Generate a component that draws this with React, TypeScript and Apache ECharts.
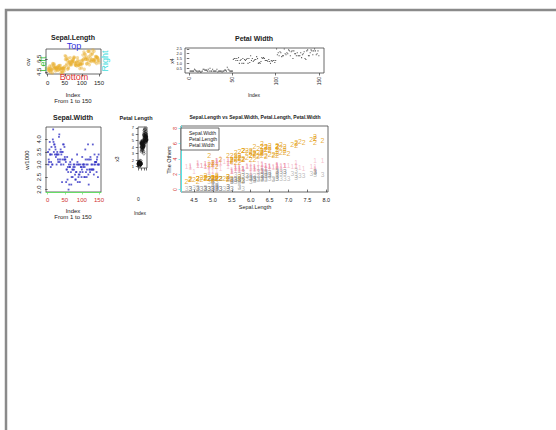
import React, { useEffect, useRef } from "react";
import * as echarts from "echarts";

const sepalLength = [5.1,4.9,4.7,4.6,5.0,5.4,4.6,5.0,4.4,4.9,5.4,4.8,4.8,4.3,5.8,5.7,5.4,5.1,5.7,5.1,5.4,5.1,4.6,5.1,4.8,5.0,5.0,5.2,5.2,4.7,4.8,5.4,5.2,5.5,4.9,5.0,5.5,4.9,4.4,5.1,5.0,4.5,4.4,5.0,5.1,4.8,5.1,4.6,5.3,5.0,
7.0,6.4,6.9,5.5,6.5,5.7,6.3,4.9,6.6,5.2,5.0,5.9,6.0,6.1,5.6,6.7,5.6,5.8,6.2,5.6,5.9,6.1,6.3,6.1,6.4,6.6,6.8,6.7,6.0,5.7,5.5,5.5,5.8,6.0,5.4,6.0,6.7,6.3,5.6,5.5,5.5,6.1,5.8,5.0,5.6,5.7,5.7,6.2,5.1,5.7,
6.3,5.8,7.1,6.3,6.5,7.6,4.9,7.3,6.7,7.2,6.5,6.4,6.8,5.7,5.8,6.4,6.5,7.7,7.7,6.0,6.9,5.6,7.7,6.3,6.7,7.2,6.2,6.1,6.4,7.2,7.4,7.9,6.4,6.3,6.1,7.7,6.3,6.4,6.0,6.9,6.7,6.9,5.8,6.8,6.7,6.7,6.3,6.5,6.2,5.9];
const sepalWidth = [3.5,3.0,3.2,3.1,3.6,3.9,3.4,3.4,2.9,3.1,3.7,3.4,3.0,3.0,4.0,4.4,3.9,3.5,3.8,3.8,3.4,3.7,3.6,3.3,3.4,3.0,3.4,3.5,3.4,3.2,3.1,3.4,4.1,4.2,3.1,3.2,3.5,3.6,3.0,3.4,3.5,2.3,3.2,3.5,3.8,3.0,3.8,3.2,3.7,3.3,
3.2,3.2,3.1,2.3,2.8,2.8,3.3,2.4,2.9,2.7,2.0,3.0,2.2,2.9,2.9,3.1,3.0,2.7,2.2,2.5,3.2,2.8,2.5,2.8,2.9,3.0,2.8,3.0,2.9,2.6,2.4,2.4,2.7,2.7,3.0,3.4,3.1,2.3,3.0,2.5,2.6,3.0,2.6,2.3,2.7,3.0,2.9,2.9,2.5,2.8,
3.3,2.7,3.0,2.9,3.0,3.0,2.5,2.9,2.5,3.6,3.2,2.7,3.0,2.5,2.8,3.2,3.0,3.8,2.6,2.2,3.2,2.8,2.8,2.7,3.3,3.2,2.8,3.0,2.8,3.0,2.8,3.8,2.8,2.8,2.6,3.0,3.4,3.1,3.0,3.1,3.1,3.1,2.7,3.2,3.3,3.0,2.5,3.0,3.4,3.0];
const petalLength = [1.4,1.4,1.3,1.5,1.4,1.7,1.4,1.5,1.4,1.5,1.5,1.6,1.4,1.1,1.2,1.5,1.3,1.4,1.7,1.5,1.7,1.5,1.0,1.7,1.9,1.6,1.6,1.5,1.4,1.6,1.6,1.5,1.5,1.4,1.5,1.2,1.3,1.4,1.3,1.5,1.3,1.3,1.3,1.6,1.9,1.4,1.6,1.4,1.5,1.4,
4.7,4.5,4.9,4.0,4.6,4.5,4.7,3.3,4.6,3.9,3.5,4.2,4.0,4.7,3.6,4.4,4.5,4.1,4.5,3.9,4.8,4.0,4.9,4.7,4.3,4.4,4.8,5.0,4.5,3.5,3.8,3.7,3.9,5.1,4.5,4.5,4.7,4.4,4.1,4.0,4.4,4.6,4.0,3.3,4.2,4.2,4.2,4.3,3.0,4.1,
6.0,5.1,5.9,5.6,5.8,6.6,4.5,6.3,5.8,6.1,5.1,5.3,5.5,5.0,5.1,5.3,5.5,6.7,6.9,5.0,5.7,4.9,6.7,4.9,5.7,6.0,4.8,4.9,5.6,5.8,6.1,6.4,5.6,5.1,5.6,6.1,5.6,5.5,4.8,5.4,5.6,5.1,5.1,5.9,5.7,5.2,5.0,5.2,5.4,5.1];
const petalWidth = [0.2,0.2,0.2,0.2,0.2,0.4,0.3,0.2,0.2,0.1,0.2,0.2,0.1,0.1,0.2,0.4,0.4,0.3,0.3,0.3,0.2,0.4,0.2,0.5,0.2,0.2,0.4,0.2,0.2,0.2,0.2,0.4,0.1,0.2,0.2,0.2,0.2,0.1,0.2,0.2,0.3,0.3,0.2,0.6,0.4,0.3,0.2,0.2,0.2,0.2,
1.4,1.5,1.5,1.3,1.5,1.3,1.6,1.0,1.3,1.4,1.0,1.5,1.0,1.4,1.3,1.4,1.5,1.0,1.5,1.1,1.8,1.3,1.5,1.2,1.3,1.4,1.4,1.7,1.5,1.0,1.1,1.0,1.2,1.6,1.5,1.6,1.5,1.3,1.3,1.3,1.2,1.4,1.2,1.0,1.3,1.2,1.3,1.3,1.1,1.3,
2.5,1.9,2.1,1.8,2.2,2.1,1.7,1.8,1.8,2.5,2.0,1.9,2.1,2.0,2.4,2.3,1.8,2.2,2.3,1.5,2.3,2.0,2.0,1.8,2.1,1.8,1.8,1.8,2.1,1.6,1.9,2.0,2.2,1.5,1.4,2.3,2.4,1.8,1.8,2.1,2.4,2.3,1.9,2.3,2.5,2.3,1.9,2.0,2.3,1.8];

const indexTicks = [0, 50, 100, 150];
const slTicks = [4.5, 6.5];
const pwTicks = [0.5, 1.0, 1.5, 2.0, 2.5];
const swTicks = [2.0, 2.5, 3.0, 3.5, 4.0];
const plTicks = [1, 2, 3, 4, 5, 6, 7];
const othersTicks = [0, 2, 4, 6, 8];
const slxTicks = [4.5, 5.0, 5.5, 6.0, 6.5, 7.0, 7.5, 8.0];
const othersLim = [0, 8];
const seriesNames = ["Sepal.Width", "Petal.Length", "Petal.Width"];
const seriesSymbols = ["1", "2", "3"];
const seriesColors = ["rgba(238,140,165,0.55)", "rgba(228,158,18,0.85)", "rgba(140,140,140,0.6)"];

const FONT = "Liberation Sans, Arial, sans-serif";

function pad(lo: number, hi: number): [number, number] {
  const d = (hi - lo) * 0.04;
  return [lo - d, hi + d];
}
const rng = (a: number[]) => pad(Math.min(...a), Math.max(...a));

function txt(text: string, x: number, y: number, opts: any = {}) {
  const { size = 6, color = "#222", bold = false, rot = 0, align = "center" } = opts;
  return {
    type: "text",
    x,
    y,
    rotation: rot,
    silent: true,
    style: {
      text,
      fill: color,
      font: `${bold ? "bold " : ""}${size}px ${FONT}`,
      align,
      verticalAlign: "middle",
      textAlign: align,
      textVerticalAlign: "middle",
    },
  };
}

export default function App() {
  const ref = useRef<HTMLDivElement>(null);
  useEffect(() => {
    if (!ref.current) return;
    const chart = echarts.init(ref.current, null, { renderer: "svg" });
    const index = sepalLength.map((_, i) => i + 1);
    const idxR = rng(index);
    const slR = rng(sepalLength);
    const pwR = rng(petalWidth);
    const swR = rng(sepalWidth);
    const plR = rng(petalLength);
    const oR = pad(othersLim[0], othersLim[1]);

    const axisBase = (min: number, max: number, ticks: number[], extra: any = {}) => {
      const { labelTicks = ticks, rotate = 0, margin = 3, size = 6, labelColor = "#222", lineColor = null } = extra;
      return {
        type: "value",
        min,
        max,
        splitLine: { show: false },
        axisLine: lineColor ? { show: true, lineStyle: { color: lineColor, width: 1 } } : { show: false },
        axisTick: { show: true, length: 2.5, customValues: ticks, lineStyle: { color: lineColor || "#333", width: 0.7 } },
        axisLabel: {
          show: true,
          customValues: labelTicks,
          rotate,
          margin,
          fontSize: size,
          color: labelColor,
          fontFamily: FONT,
          hideOverlap: false,
          showMinLabel: true,
          showMaxLabel: true,
          formatter: (v: number) => (extra.fmt ? extra.fmt(v) : String(v)),
        },
      };
    };

    const gridBase = { show: true, borderColor: "#444", borderWidth: 0.8, backgroundColor: "transparent", containLabel: false, outerBoundsMode: "none" };
    const f1 = (v: number) => v.toFixed(1);

    const xy = (ys: number[]) => index.map((x, i) => [x, ys[i]]);

    const option: any = {
      animation: false,
      grid: [
        { ...gridBase, left: 46, top: 49, width: 55, height: 25 },
        { ...gridBase, left: 185, top: 48, width: 139, height: 25 },
        { ...gridBase, left: 46, top: 127, width: 55, height: 65 },
        { ...gridBase, left: 138, top: 127, width: 9, height: 41 },
        { ...gridBase, left: 181, top: 126, width: 147, height: 66 },
      ],
      xAxis: [
        { gridIndex: 0, ...axisBase(idxR[0], idxR[1], indexTicks, { margin: 6 }) },
        { gridIndex: 1, ...axisBase(idxR[0], idxR[1], indexTicks, { rotate: 90, margin: 4, size: 5 }) },
        { gridIndex: 2, ...axisBase(idxR[0], idxR[1], indexTicks, { margin: 5, labelColor: "#d03030", lineColor: "#66dd66" }) },
        { gridIndex: 3, ...axisBase(idxR[0], idxR[1], indexTicks, { labelTicks: [0], margin: 28, size: 5 }) },
        { gridIndex: 4, ...axisBase(slR[0], slR[1], slxTicks, { margin: 5, size: 5.5, fmt: f1 }) },
      ],
      yAxis: [
        { gridIndex: 0, ...axisBase(slR[0], slR[1], slTicks, { rotate: 90, margin: 4, fmt: f1 }) },
        { gridIndex: 1, ...axisBase(pwR[0], pwR[1], pwTicks, { margin: 3, size: 4, fmt: f1 }) },
        { gridIndex: 2, ...axisBase(swR[0], swR[1], swTicks, { rotate: 90, margin: 4, fmt: f1 }) },
        { gridIndex: 3, ...axisBase(plR[0], plR[1], plTicks, { margin: 4, size: 4 }) },
        { gridIndex: 4, ...axisBase(oR[0], oR[1], othersTicks, { rotate: 90, margin: 4, size: 5, labelColor: "#d03030", lineColor: "#55e5e5" }) },
      ],
      series: [
        {
          type: "scatter", xAxisIndex: 0, yAxisIndex: 0, data: xy(sepalLength),
          symbol: "circle", symbolSize: 3.4, itemStyle: { color: "rgba(232,172,40,0.55)" }, silent: true,
        },
        {
          type: "scatter", xAxisIndex: 1, yAxisIndex: 1, data: xy(petalWidth),
          symbol: "rect", symbolSize: 1.1, itemStyle: { color: "#333" }, silent: true,
        },
        {
          type: "scatter", xAxisIndex: 2, yAxisIndex: 2, data: xy(sepalWidth),
          symbol: "rect", symbolSize: 1.8, itemStyle: { color: "#3434c4" }, silent: true,
        },
        {
          type: "scatter", xAxisIndex: 3, yAxisIndex: 3, data: xy(petalLength),
          symbol: "circle", symbolSize: 2.6, itemStyle: { color: "transparent", borderColor: "#111", borderWidth: 0.6 }, silent: true,
        },
        ...[sepalWidth, petalLength, petalWidth].map((arr, k) => ({
          type: "custom",
          name: seriesNames[k],
          xAxisIndex: 4,
          yAxisIndex: 4,
          data: sepalLength.map((x, i) => [x, arr[i]]),
          silent: true,
          renderItem: (params: any, api: any) => {
            const p = api.coord([api.value(0), api.value(1)]);
            return {
              type: "text",
              x: p[0],
              y: p[1],
              style: {
                text: seriesSymbols[k],
                fill: seriesColors[k],
                font: `${k === 1 ? 7 : 6.5}px ${FONT}`,
                align: "center",
                verticalAlign: "middle",
              },
            };
          },
        })),
      ],
      graphic: [
        { type: "rect", silent: true, shape: { x: 6, y: 10, width: 700, height: 600 }, style: { fill: "none", stroke: "#8a8a8a", lineWidth: 2.5 } },
        // panel 1
        txt("Sepal.Length", 73, 37, { bold: true, size: 7 }),
        txt("Top", 74, 46, { size: 9, color: "#3333dd" }),
        txt("Bottom", 74, 77, { size: 9, color: "#dd3333" }),
        txt("Left", 43, 64, { size: 9, color: "#33bb33", rot: Math.PI / 2 }),
        txt("Right", 104.5, 61, { size: 9, color: "#44dddd", rot: Math.PI / 2 }),
        txt("cw", 28, 62, { rot: Math.PI / 2 }),
        txt("Index", 73, 95),
        txt("From 1 to 150", 73, 101),
        // panel 2
        txt("Petal Width", 254, 38, { bold: true, size: 7 }),
        txt("x4", 172, 61, { rot: Math.PI / 2, size: 5 }),
        txt("Index", 254, 95, { size: 5 }),
        // panel 3
        txt("Sepal.Width", 73, 117.5, { bold: true, size: 7 }),
        txt("w/1000", 27, 160, { rot: Math.PI / 2 }),
        txt("Index", 73, 210.5),
        txt("From 1 to 150", 73, 216.5),
        // panel 4
        txt("Petal Length", 136, 117.5, { bold: true, size: 5.5 }),
        txt("x3", 117, 159, { rot: Math.PI / 2, size: 5 }),
        txt("Index", 140, 213, { size: 5 }),
        // panel 5
        txt("Sepal.Length vs Sepal.Width, Petal.Length, Petal.Width", 255, 116.5, { bold: true, size: 5 }),
        txt("The Others", 169, 160, { rot: Math.PI / 2, size: 5.5 }),
        txt("Sepal.Length", 255, 207, { size: 5.5 }),
        { type: "rect", silent: true, z: 10, shape: { x: 181, y: 128, width: 38, height: 22 }, style: { fill: "#fff", stroke: "#444", lineWidth: 0.8 } },
        ...seriesNames.map((n, i) => ({ ...txt(n, 189, 133 + i * 6, { size: 5, align: "left" }), z: 11 })),
      ],
    };
    chart.setOption(option);
    return () => chart.dispose();
  }, []);
  return <div ref={ref} style={{ position: "absolute", left: 0, top: 0, width: 556, height: 430 }} />;
}
